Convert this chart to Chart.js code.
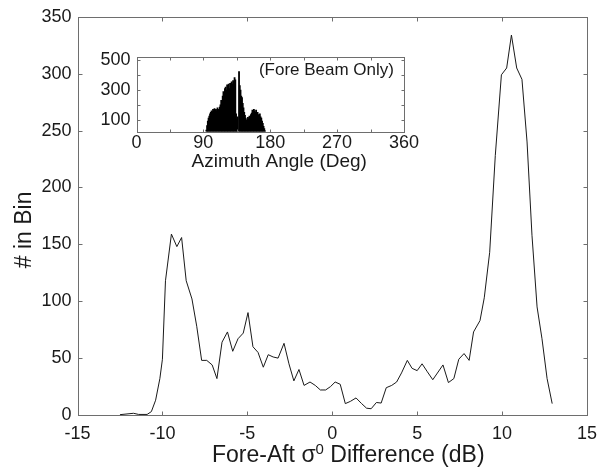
<!DOCTYPE html>
<html><head><meta charset="utf-8">
<script src="https://cdn.jsdelivr.net/npm/chart.js@4.4.1/dist/chart.umd.min.js"></script>
<style>
html,body{margin:0;padding:0;background:#fff}
#wrap{position:relative;width:614px;height:474px}
#insetWrap{position:absolute;left:80px;top:40px;width:340px;height:140px}
</style></head><body>
<div id="wrap"><canvas id="main"></canvas><div id="insetWrap"><canvas id="inset"></canvas></div></div>
<script>
// ---- main curve: fore-aft sigma0 difference histogram ----
const diffDb = [-12.5,-11.7,-11.4,-10.9,-10.65,-10.4,-10.15,-10.0,-9.82,-9.47,-9.15,-8.87,-8.6,-8.26,-7.98,-7.69,-7.39,-7.07,-6.79,-6.49,-6.17,-5.86,-5.55,-5.24,-4.96,-4.67,-4.37,-4.06,-3.77,-3.48,-3.19,-2.84,-2.55,-2.26,-1.96,-1.66,-1.31,-1.0,-0.7,-0.39,-0.1,0.17,0.47,0.77,1.07,1.4,1.73,2.02,2.29,2.6,2.88,3.18,3.5,3.79,4.08,4.42,4.7,5.0,5.29,5.6,5.92,6.52,6.84,7.16,7.45,7.76,8.06,8.32,8.7,8.95,9.27,9.6,9.96,10.27,10.55,10.86,11.17,11.47,11.76,12.06,12.35,12.65,12.95];
const binCount = [0.3,1.5,0.5,0.5,3,13,32,49,118,159,148,156,118,102,78,48,48,44,32,64,73,56,67,72,90,60,55,42,53,51,50,63,45,30,40,26,29,26,22,22,25,29,27,10,12,15,10,6,5.5,11,10.5,24,26,29,37,48,41,39,45,38,31,44,28.5,32,49,54,48,73,83,103,143,228,299,305,334,305,295,240,158,95,67,32,10];
const mainXTicks = [-15,-10,-5,0,5,10,15];
const mainYTicks = [0,50,100,150,200,250,300,350];

// ---- inset: azimuth angle histogram (fore beam only) ----
const azDeg = [94,95,96,97,98,99,100,101,102,103,104,105,106,107,108,109,110,111,112,113,114,115,116,117,118,119,120,121,122,123,124,125,126,127,128,129,130,131,132,133,134,135,136,137,138,139,140,141,142,143,144,145,146,147,148,149,150,151,152,153,154,155,156,157,158,159,160,161,162,163,164,165,166,167,168,169,170,171,172,173,174];
const azCount = [30,60,90,110,125,140,150,160,155,170,160,175,165,170,160,180,170,165,185,200,230,215,260,290,275,310,320,300,335,320,340,310,345,330,355,340,365,350,385,370,140,100,120,0,425,330,300,260,250,210,180,150,130,110,95,100,115,105,125,120,135,145,165,155,170,160,150,165,140,150,135,130,140,120,110,90,75,55,40,25,10];
const insetXTicks = [0,90,180,270,360];
const insetXMinor = [45,135,225,315];
const insetYTicks = [100,300,500];
const insetYMinor = [200,400];

const FONT = "'Liberation Sans', Arial, Helvetica, sans-serif";
const INK = '#1a1a1a';

const framePlugin = {
  id: 'frame',
  afterDatasetsDraw(chart, args, o) {
    const {ctx, chartArea: a, scales: {x, y}} = chart;
    const L = o.len;
    ctx.save();
    ctx.strokeStyle = o.color; ctx.lineWidth = 1;
    const l = Math.round(a.left) + 0.5, r = Math.round(a.right) + 0.5;
    const t = Math.round(a.top) + 0.5, b = Math.round(a.bottom) + 0.5;
    ctx.strokeRect(l, t, r - l, b - t);
    ctx.beginPath();
    const xs = x.ticks.map(k => k.value).concat(o.xMinor || []);
    xs.forEach(v => {
      const p = Math.round(x.getPixelForValue(v)) + 0.5;
      ctx.moveTo(p, b); ctx.lineTo(p, b - L);
      ctx.moveTo(p, t); ctx.lineTo(p, t + L);
    });
    const ys = y.ticks.map(k => k.value).concat(o.yMinor || []);
    ys.forEach(v => {
      const p = Math.round(y.getPixelForValue(v)) + 0.5;
      ctx.moveTo(l, p); ctx.lineTo(l + L, p);
      ctx.moveTo(r, p); ctx.lineTo(r - L, p);
    });
    ctx.stroke();
    ctx.restore();
  },
  afterDraw(chart, args, o) {
    const {ctx, chartArea: a} = chart;
    ctx.save();
    ctx.fillStyle = INK;
    (o.texts || []).forEach(tx => {
      ctx.save();
      const cx = tx.anchor === 'right' ? a.right + tx.dx : (a.left + a.right) / 2 + tx.dx;
      const cy = tx.vert ? (a.top + a.bottom) / 2 + tx.dy : tx.y;
      ctx.translate(tx.vert ? tx.x : cx, cy);
      if (tx.vert) ctx.rotate(-Math.PI / 2);
      ctx.textBaseline = 'alphabetic';
      const parts = tx.parts;
      let total = 0;
      parts.forEach(p => { ctx.font = p.size + 'px ' + FONT; p.w = ctx.measureText(p.s).width; total += p.w; });
      let xx = tx.anchor === 'right' ? -total : -total / 2;
      parts.forEach(p => { ctx.font = p.size + 'px ' + FONT; ctx.fillText(p.s, xx, -(p.rise || 0)); xx += p.w; });
      ctx.restore();
    });
    ctx.restore();
  }
};

const setTicks = arr => scale => { scale.ticks = arr.map(v => ({value: v})); };

new Chart(document.getElementById('main'), {
  type: 'line',
  data: { datasets: [{
    data: diffDb.map((v, i) => ({x: v, y: binCount[i]})),
    borderColor: INK, borderWidth: 1, pointRadius: 0, tension: 0, fill: false
  }]},
  options: {
    responsive: true, maintainAspectRatio: false, animation: false,
    layout: { padding: {left: 0, top: 15, right: 27, bottom: 0} },
    plugins: {
      legend: {display: false}, tooltip: {enabled: false},
      frame: {
        color: '#6e6e6e', len: 4,
        texts: [
          {y: 462, dx: 16, parts: [
            {s: 'Fore-Aft \u03c3', size: 23},
            {s: '0', size: 15, rise: 8},
            {s: ' Difference (dB)', size: 23}]},
          {vert: true, x: 31, dy: 14, parts: [{s: '# in Bin', size: 23}]}
        ]
      }
    },
    scales: {
      x: {
        type: 'linear', min: -15, max: 15,
        afterBuildTicks: setTicks(mainXTicks),
        afterFit: s => { s.height = 59; },
        grid: {display: false, drawTicks: false}, border: {display: false},
        ticks: {color: INK, font: {family: FONT, size: 18}, padding: 8, maxRotation: 0, autoSkip: false}
      },
      y: {
        type: 'linear', min: 0, max: 350,
        afterBuildTicks: setTicks(mainYTicks),
        afterFit: s => { s.width = 77.5; },
        grid: {display: false, drawTicks: false}, border: {display: false},
        ticks: {color: INK, font: {family: FONT, size: 18}, padding: 6, autoSkip: false}
      }
    }
  },
  plugins: [framePlugin]
});

new Chart(document.getElementById('inset'), {
  type: 'bar',
  data: { datasets: [{
    data: azDeg.map((v, i) => ({x: v, y: azCount[i]})),
    backgroundColor: '#000', borderWidth: 0, barThickness: 1.15
  }]},
  options: {
    responsive: true, maintainAspectRatio: false, animation: false,
    layout: { padding: {left: 0, top: 10.5, right: 13, bottom: 0} },
    plugins: {
      legend: {display: false}, tooltip: {enabled: false},
      frame: {
        color: '#6e6e6e', len: 3, xMinor: insetXMinor, yMinor: insetYMinor,
        texts: [
          {y: 127, dx: 9, parts: [{s: 'Azimuth Angle (Deg)', size: 19}]},
          {y: 35, anchor: 'right', dx: -10, parts: [{s: '(Fore Beam Only)', size: 17}]}
        ]
      }
    },
    scales: {
      x: {
        type: 'linear', min: 0, max: 360, offset: false,
        afterBuildTicks: setTicks(insetXTicks),
        afterFit: s => { s.height = 48.5; },
        grid: {display: false, drawTicks: false, offset: false}, border: {display: false},
        ticks: {color: INK, font: {family: FONT, size: 18}, padding: 1, maxRotation: 0, autoSkip: false}
      },
      y: {
        type: 'linear', min: 20, max: 525,
        afterBuildTicks: setTicks(insetYTicks),
        afterFit: s => { s.width = 56.5; },
        grid: {display: false, drawTicks: false}, border: {display: false},
        ticks: {color: INK, font: {family: FONT, size: 18}, padding: 6, autoSkip: false}
      }
    }
  },
  plugins: [framePlugin]
});
</script>
</body></html>
